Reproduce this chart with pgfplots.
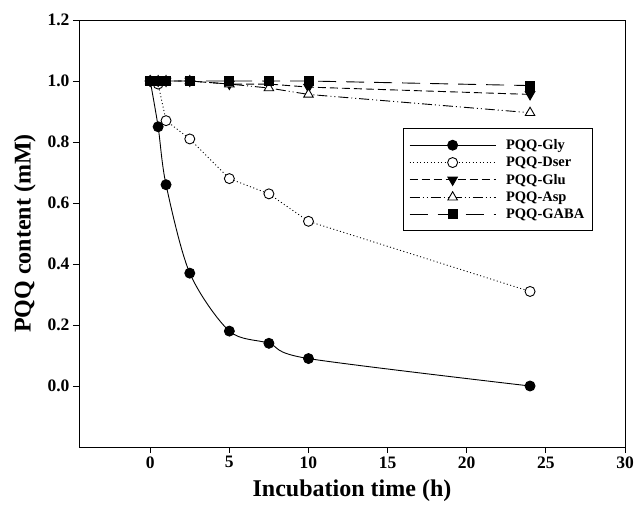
\documentclass[border=0pt]{standalone}
\usepackage{fontspec}
\setmainfont{Liberation Serif}
\usepackage{pgfplots}
\pgfplotsset{compat=1.18}

\begin{document}
\begin{tikzpicture}
\path[use as bounding box] (-79pt,-60pt) rectangle (557pt,447pt);
\begin{axis}[
  scale only axis,
  width=546pt, height=427pt,
  xmin=-4.5, xmax=30,
  ymin=-0.2, ymax=1.2,
  xtick={0,5,...,30},
  ytick={0,0.2,...,1.2},
  tick align=outside,
  major tick length=6pt,
  xtick pos=bottom, ytick pos=left,
  axis line style={line width=0.9pt},
  tick style={line width=0.8pt, black},
  /pgf/number format/assume math mode=true,
  yticklabel style={/pgf/number format/.cd, fixed, fixed zerofill, precision=1},
  ticklabel style={font=\bfseries\fontsize{17.5}{19}\selectfont},
  xlabel={Incubation time (h)},
  ylabel={PQQ content (mM)},
  label style={font=\bfseries\fontsize{24}{26}\selectfont},
  xlabel shift=5pt, ylabel shift=5pt,
  legend style={at={(0.593,0.747)}, anchor=north west, draw=black, line width=0.8pt,
    font=\bfseries\fontsize{14.5}{17}\selectfont, row sep=2pt, inner xsep=6pt, inner ysep=9pt,
    cells={anchor=west}, /tikz/every odd column/.append style={column sep=8pt}},
  legend image code/.code={\draw[mark repeat=2,mark phase=2,#1] plot coordinates {(0pt,0pt) (43pt,0pt) (86pt,0pt)};},
]
\addplot[black, line width=0.9pt, smooth, tension=0.5, mark=*, mark size=5pt, mark options={solid, fill=black}] coordinates {
  (0,1.0) (0.5,0.85) (1,0.66) (2.5,0.37) (5,0.18) (7.5,0.14) (10,0.09) (24,0.0)
};
\addlegendentry{PQQ-Gly}
\addplot[black, line width=0.9pt, dash pattern=on 1pt off 2.5pt, mark=*, mark size=5pt, mark options={solid, fill=white}] coordinates {
  (0,1.0) (0.5,0.99) (1,0.87) (2.5,0.81) (5,0.68) (7.5,0.63) (10,0.54) (24,0.31)
};
\addlegendentry{PQQ-Dser}
\addplot[black, line width=0.9pt, dash pattern=on 8pt off 4pt, mark=triangle*, mark size=5.5pt, mark options={solid, fill=black, rotate=180}] coordinates {
  (0,1.0) (0.5,1.0) (1,1.0) (2.5,1.0) (5,0.99) (7.5,0.99) (10,0.98) (24,0.956)
};
\addlegendentry{PQQ-Glu}
\addplot[black, line width=0.9pt, dash pattern=on 10pt off 3pt on 1pt off 3pt on 1pt off 3pt, mark=triangle*, mark size=5.5pt, mark options={solid, fill=white}] coordinates {
  (0,1.0) (0.5,1.0) (1,1.0) (2.5,1.0) (5,0.99) (7.5,0.977) (10,0.956) (24,0.896)
};
\addlegendentry{PQQ-Asp}
\addplot[black, line width=0.9pt, dash pattern=on 18pt off 10pt, mark=square*, mark size=4.5pt, mark options={solid, fill=black}] coordinates {
  (0,1.0) (0.5,1.0) (1,1.0) (2.5,1.0) (5,1.0) (7.5,1.0) (10,1.0) (24,0.985)
};
\addlegendentry{PQQ-GABA}
\end{axis}
\end{tikzpicture}
\end{document}
